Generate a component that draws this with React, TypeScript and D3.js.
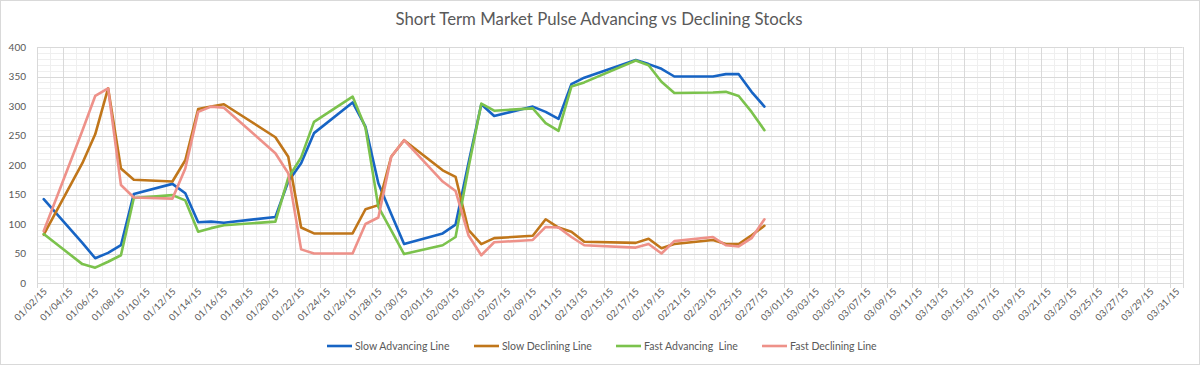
import React from "react";
import * as d3 from "d3";

const dates = [
  "2015-01-02", "2015-01-05", "2015-01-06", "2015-01-07", "2015-01-08", "2015-01-09",
  "2015-01-12", "2015-01-13", "2015-01-14", "2015-01-15", "2015-01-16",
  "2015-01-20", "2015-01-21", "2015-01-22", "2015-01-23",
  "2015-01-26", "2015-01-27", "2015-01-28", "2015-01-29", "2015-01-30",
  "2015-02-02", "2015-02-03", "2015-02-04", "2015-02-05", "2015-02-06",
  "2015-02-09", "2015-02-10", "2015-02-11", "2015-02-12", "2015-02-13",
  "2015-02-17", "2015-02-18", "2015-02-19", "2015-02-20",
  "2015-02-23", "2015-02-24", "2015-02-25", "2015-02-26", "2015-02-27",
];

const slowAdvancing = [
  142, 68, 42, 51, 64, 151, 168, 152, 103, 104, 102, 112, 172, 203, 254,
  306, 265, 169, 117, 66, 84, 99, 203, 303, 283, 299, 290, 278, 337, 348,
  378, 371, 363, 350, 350, 354, 354, 324, 299,
];

const slowDeclining = [
  82, 203, 252, 330, 194, 175, 172, 208, 295, 299, 303, 247, 214, 94, 84,
  84, 125, 132, 214, 242, 191, 180, 90, 66, 76, 80, 108, 94, 87, 70,
  68, 75, 59, 66, 73, 66, 66, 81, 97,
];

const fastAdvancing = [
  83, 32, 26, 36, 47, 144, 149, 140, 87, 93, 98, 104, 178, 213, 273,
  316, 263, 129, 89, 49, 64, 78, 195, 304, 292, 296, 271, 258, 333, 340,
  377, 369, 341, 322, 323, 324, 317, 290, 259,
];

const fastDeclining = [
  88, 258, 317, 330, 166, 145, 143, 194, 290, 299, 297, 220, 186, 57, 50,
  50, 100, 111, 214, 242, 172, 156, 81, 47, 69, 73, 95, 94, 78, 64,
  60, 66, 50, 71, 78, 64, 62, 76, 108,
];

const seriesNames = ["Slow Advancing Line", "Slow Declining Line", "Fast Advancing  Line", "Fast Declining Line"];
const seriesColors = ["#1764C4", "#C0761A", "#7BC24C", "#EE9189"];
const yTicks = [0, 50, 100, 150, 200, 250, 300, 350, 400];

const W = 1200;
const H = 365;
const font = "Lato, 'Open Sans', sans-serif";
const textColor = "#595959";

const parse = d3.utcParse("%Y-%m-%d");
const fmt = d3.utcFormat("%m/%d/%y");

export default function App() {
  const axisStart = new Date(Date.UTC(2015, 0, 2));
  const axisEnd = new Date(Date.UTC(2015, 3, 1));
  const x = d3.scaleUtc().domain([axisStart, axisEnd]).range([37.3, 1182.7]);
  const y = d3.scaleLinear().domain([0, 400]).range([283, 47]);

  const days = d3.utcDay.range(axisStart, d3.utcDay.offset(axisEnd, 1));
  const labelDays = d3.utcDay.range(axisStart, axisEnd).filter((_, i) => i % 2 === 0);
  const mid = (d: Date) => x(d3.utcHour.offset(d, 12));

  const parsed = dates.map((s) => parse(s)!);
  const all = [slowAdvancing, slowDeclining, fastAdvancing, fastDeclining];
  const line = d3
    .line<number>()
    .x((_, i) => mid(parsed[i]))
    .y((v) => y(v));

  const minorY = d3.range(0, 401, 10).filter((v) => v % 50 !== 0);
  const legendX = [327, 474, 616, 762];

  return (
    <div style={{ position: "absolute", left: 0, top: 0 }}>
      <svg width={W} height={H} style={{ display: "block", background: "#fff" }}>
        <rect x={0.5} y={0.5} width={W - 1} height={H - 1} fill="#fff" stroke="#D9D9D9" />
        <text x={599} y={25} textAnchor="middle" fontFamily={font} fontSize={16.8} fill={textColor}>
          Short Term Market Pulse Advancing vs Declining Stocks
        </text>

        {/* minor grid */}
        <g stroke="#EFEFEF" strokeWidth={1}>
          {minorY.map((v) => (
            <line key={"my" + v} x1={x.range()[0]} x2={x.range()[1]} y1={Math.round(y(v)) + 0.5} y2={Math.round(y(v)) + 0.5} />
          ))}
          {days.filter((_, i) => i % 2 === 1).map((d) => (
            <line key={"mx" + d.getTime()} x1={Math.round(x(d)) + 0.5} x2={Math.round(x(d)) + 0.5} y1={y(400)} y2={y(0)} />
          ))}
        </g>
        {/* major grid */}
        <g stroke="#D9D9D9" strokeWidth={1}>
          {yTicks.map((v) => (
            <line key={"gy" + v} x1={x.range()[0]} x2={x.range()[1]} y1={Math.round(y(v)) + 0.5} y2={Math.round(y(v)) + 0.5} />
          ))}
          {days.filter((_, i) => i % 2 === 0 || i === days.length - 1).map((d) => (
            <line key={"gx" + d.getTime()} x1={Math.round(x(d)) + 0.5} x2={Math.round(x(d)) + 0.5} y1={y(400)} y2={y(0) + 5} />
          ))}
        </g>

        {/* y labels */}
        <g fontFamily={font} fontSize={10} fill={textColor} textAnchor="end">
          {yTicks.map((v) => (
            <text key={v} x={26} y={y(v) + 3.5}>{v}</text>
          ))}
        </g>

        {/* x labels */}
        <g fontFamily={font} fontSize={9.5} fill={textColor} textAnchor="end">
          {labelDays.map((d) => (
            <text key={d.getTime()} transform={`translate(${mid(d) + 4},${292}) rotate(-45)`}>
              {fmt(d)}
            </text>
          ))}
        </g>

        {/* series */}
        {all.map((vals, i) => (
          <path key={i} d={line(vals) ?? ""} fill="none" stroke={seriesColors[i]} strokeWidth={2.6} strokeLinejoin="round" strokeLinecap="round" />
        ))}

        {/* legend */}
        <g fontFamily={font} fontSize={10.5} fill={textColor}>
          {seriesNames.map((name, i) => (
            <g key={name} transform={`translate(${legendX[i]},346)`}>
              <line x1={0} x2={25} y1={0} y2={0} stroke={seriesColors[i]} strokeWidth={2.6} />
              <text x={28} y={3.7} style={{ whiteSpace: "pre" }}>{name}</text>
            </g>
          ))}
        </g>
      </svg>
    </div>
  );
}
